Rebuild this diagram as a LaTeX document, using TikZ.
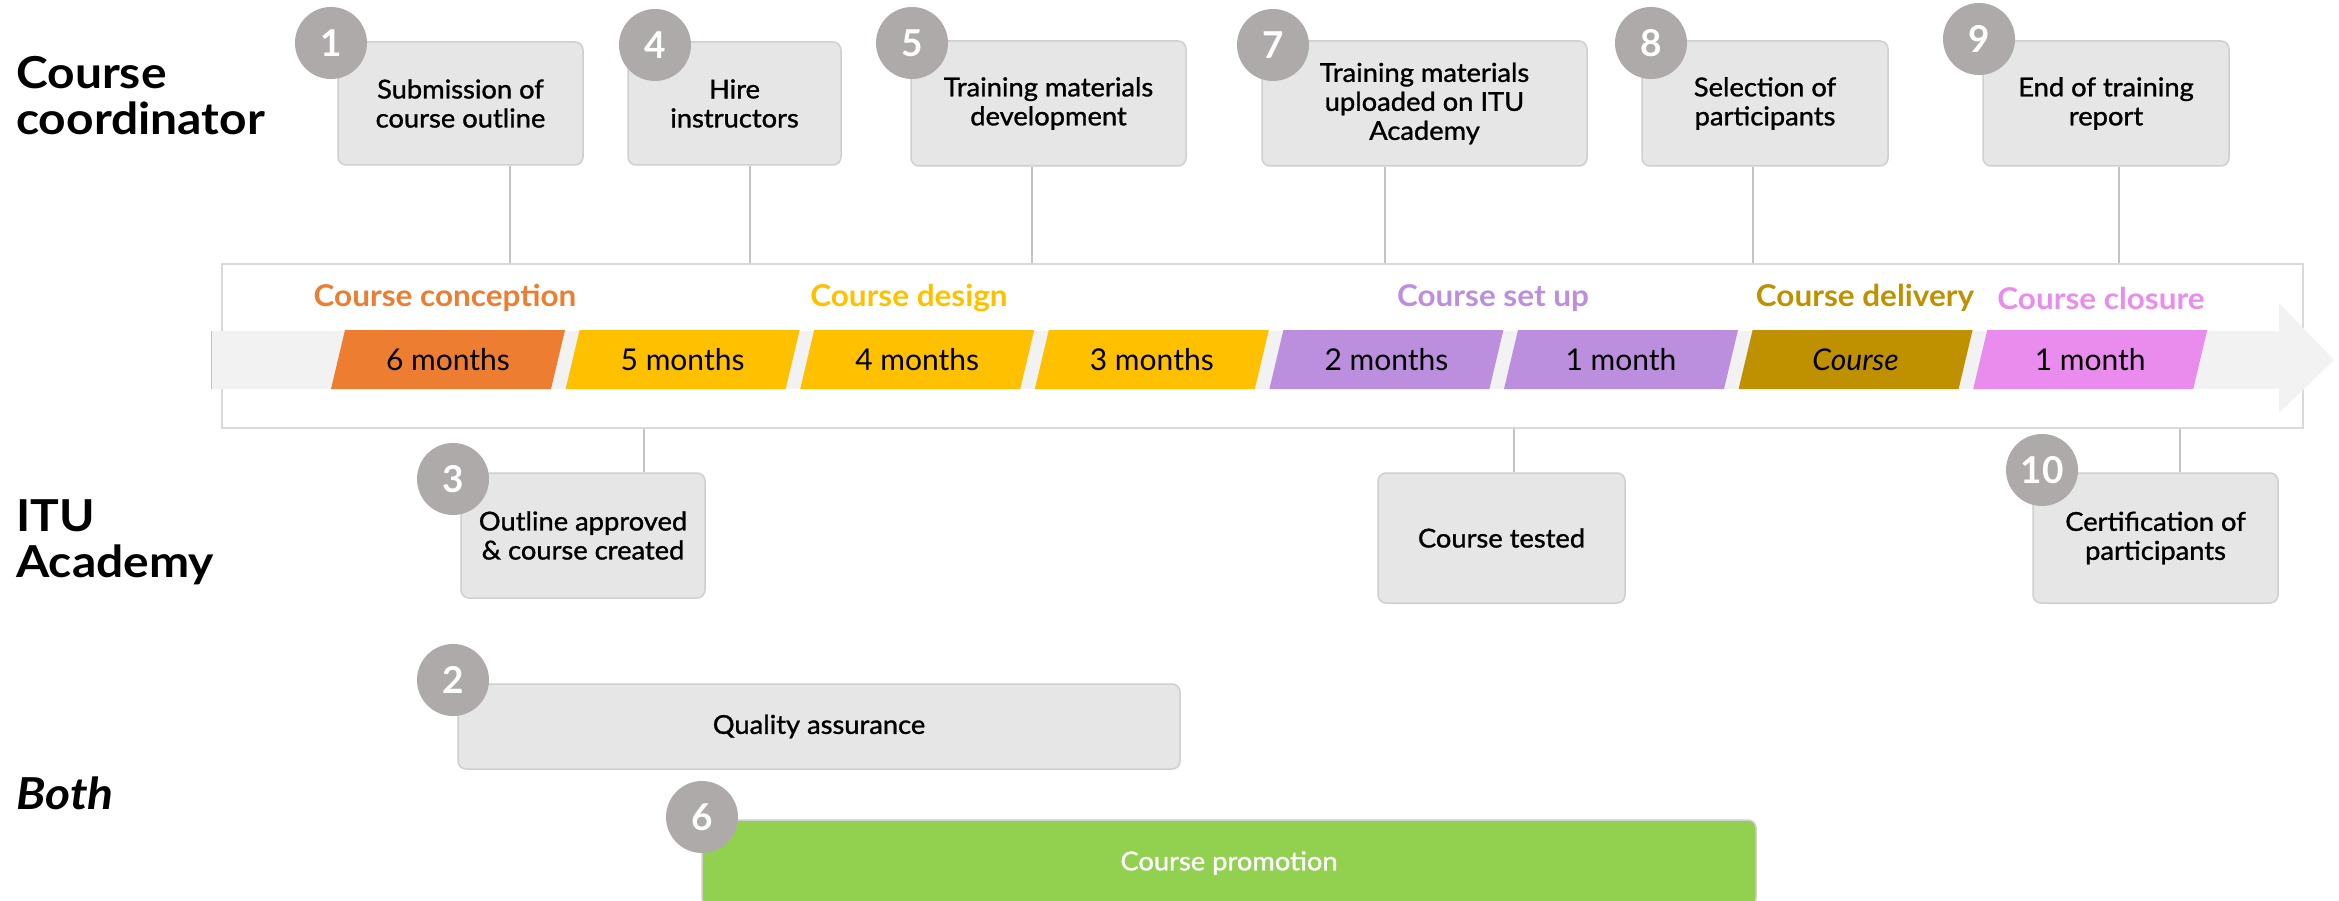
\documentclass[tikz,border=0pt]{standalone}
\usepackage{fontspec}
\setmainfont{Lato}
\newfontfamily\medfam[FakeBold=1.2,FakeStretch=1.05]{Lato}
\newfontfamily\lanefam[FakeStretch=1.09]{Lato}
\newfontfamily\phasefam[FakeStretch=1.05]{Lato}
\definecolor{boxfill}{HTML}{E6E6E6}
\definecolor{boxline}{HTML}{D0CECE}
\definecolor{numfill}{HTML}{AEAAAA}
\definecolor{connline}{HTML}{C4C4C4}
\definecolor{frameline}{HTML}{D9D9D9}
\definecolor{bandfill}{HTML}{F2F2F2}
\definecolor{segorange}{HTML}{ED7D31}
\definecolor{segyellow}{HTML}{FFC000}
\definecolor{segpurple}{HTML}{BB8FDE}
\definecolor{seggold}{HTML}{BF9000}
\definecolor{segpink}{HTML}{EA8CEE}
\definecolor{promogreen}{HTML}{92D050}
\newcommand\bxfont{\medfam\fontsize{26}{29}\selectfont}
\newcommand\nmfont{\fontsize{37}{40}\selectfont\bfseries}
\newcommand\sgfont{\fontsize{30}{34}\selectfont}
\newcommand\phfont{\phasefam\fontsize{30}{33}\selectfont\bfseries}
\newcommand\lnfont{\lanefam\fontsize{44}{46}\selectfont\bfseries}
\begin{document}
\begin{tikzpicture}[x=1pt,y=-1pt,
  box/.style={draw=boxline, line width=1.5pt, fill=boxfill, rounded corners=8pt,
    align=center, font=\bxfont, text=black, inner sep=0pt},
  num/.style={circle, fill=numfill, minimum size=72pt, inner sep=0pt,
    text=white, font=\nmfont},
  conn/.style={draw=connline, line width=2pt},
  seg/.style={font=\sgfont, text=black, inner sep=0pt},
  phase/.style={font=\phfont, inner sep=0pt},
  lane/.style={font=\lnfont, align=left, inner sep=0pt, anchor=north west}]
\useasboundingbox (0,0) rectangle (2339,901);

% lane labels
\node[lane] (lcc) at (16,56) {Course\\coordinator};
\node[lane] (lit) at (16,499) {ITU\\Academy};
\node[lane] (lbo) at (16,777) {\itshape Both};

% frame around timeline
\node[draw=frameline, line width=1.5pt, minimum width=2081pt, minimum height=164pt,
  inner sep=0pt] (frame) at (1262.5,346) {};

% timeline band with arrow head
\fill[bandfill] (211,331) -- (2279,331) -- (2279,303) -- (2334,360) -- (2279,413)
  -- (2279,389) -- (211,389) -- cycle;
\draw[connline, line width=1pt] (211,331) -- (211,389);

% segments
\foreach \i/\c/\t in {0/segorange/6 months, 1/segyellow/5 months, 2/segyellow/4 months,
  3/segyellow/3 months, 4/segpurple/2 months, 5/segpurple/1 month,
  6/seggold/{\textit{Course}}, 7/segpink/1 month} {
  \pgfmathsetmacro\xa{345+234.6*\i}
  \fill[\c] (\xa,330) -- (\xa+220,330) -- (\xa+206,389) -- (\xa-14,389) -- cycle;
  \node[seg] (seg\i) at (\xa+103,359.5) {\t};
}

% phase labels
\node[phase, text=segorange] (ph1) at (445,298) {Course conception};
\node[phase, text=segyellow] (ph2) at (909,298) {Course design};
\node[phase, text=segpurple] (ph3) at (1493,298) {Course set up};
\node[phase, text=seggold] (ph4) at (1865,298) {Course delivery};
\node[phase, text=segpink] (ph5) at (2101,298) {Course closure};

% top boxes
\node[box, minimum width=245pt, minimum height=123pt] (b1) at (460.5,103.5) {Submission of\\course outline};
\node[box, minimum width=213pt, minimum height=123pt] (b4) at (734.5,103.5) {Hire\\instructors};
\node[box, minimum width=275pt, minimum height=125pt] (b5) at (1048.5,103.5) {Training materials\\development};
\node[box, minimum width=325pt, minimum height=125pt] (b7) at (1424.5,103.5) {Training materials\\uploaded on ITU\\Academy};
\node[box, minimum width=246pt, minimum height=125pt] (b8) at (1765,103.5) {Selection of\\participants};
\node[box, minimum width=246pt, minimum height=125pt] (b9) at (2106,103.5) {End of training\\report};

% bottom boxes
\node[box, minimum width=244pt, minimum height=125pt] (b3) at (583,535.5) {Outline approved\\\& course created};
\node[box, minimum width=247pt, minimum height=130pt] (bt) at (1501.5,538) {Course tested};
\node[box, minimum width=245pt, minimum height=130pt] (b10) at (2155.5,538) {Certification of\\participants};
\node[box, minimum width=722pt, minimum height=85pt] (b2) at (819,726.5) {Quality assurance};
\node[box, fill=promogreen, text=white, minimum width=1054pt, minimum height=86pt] (b6) at (1229,863) {Course promotion};

% connectors
\draw[conn] ([xshift=49.5pt]b1.south) -- ([xshift=49.5pt]b1.south |- frame.north);
\draw[conn] ([xshift=15.5pt]b4.south) -- ([xshift=15.5pt]b4.south |- frame.north);
\draw[conn] ([xshift=-16.5pt]b5.south) -- ([xshift=-16.5pt]b5.south |- frame.north);
\draw[conn] ([xshift=-39.5pt]b7.south) -- ([xshift=-39.5pt]b7.south |- frame.north);
\draw[conn] ([xshift=-12pt]b8.south) -- ([xshift=-12pt]b8.south |- frame.north);
\draw[conn] ([xshift=13pt]b9.south) -- ([xshift=13pt]b9.south |- frame.north);
\draw[conn] ([xshift=61pt]b3.north) -- ([xshift=61pt]b3.north |- frame.south);
\draw[conn] ([xshift=12.5pt]bt.north) -- ([xshift=12.5pt]bt.north |- frame.south);
\draw[conn] ([xshift=24.5pt]b10.north) -- ([xshift=24.5pt]b10.north |- frame.south);

% number circles
\node[num] (n1) at (331,43) {1};
\node[num] (n4) at (655,45) {4};
\node[num] (n5) at (912,43) {5};
\node[num] (n7) at (1273,45) {7};
\node[num] (n8) at (1651,43) {8};
\node[num] (n9) at (1979,39) {9};
\node[num] (n3) at (453,479) {3};
\node[num] (n2) at (453,680) {2};
\node[num] (n6) at (702,817) {6};
\node[num] (n10) at (2042,470) {10};
\end{tikzpicture}
\end{document}
